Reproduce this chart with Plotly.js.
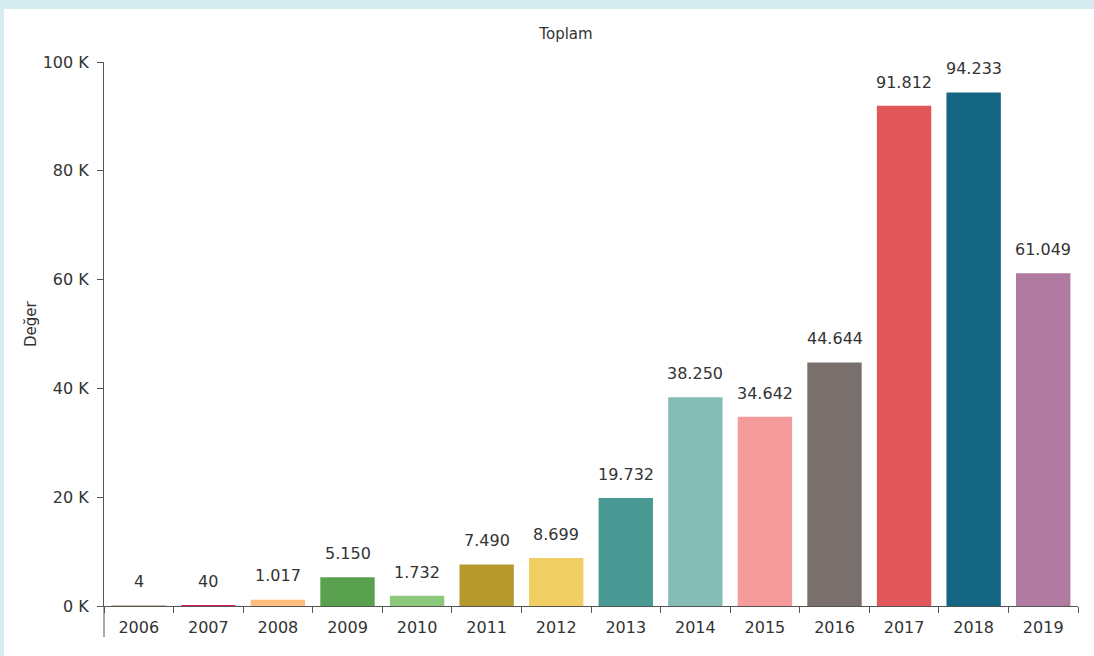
<!DOCTYPE html>
<html>
<head>
<meta charset="utf-8">
<script src="https://cdn.plot.ly/plotly-3.0.1.min.js"></script>
<style>
  html, body { margin: 0; padding: 0; background: #d6ecf0; width: 1094px; height: 656px; overflow: hidden; }
  #toplam { position: absolute; left: 4px; top: 9px; width: 1090px; height: 647px; background: #fff; }
</style>
</head>
<body>
<div id="toplam"></div>
<script>
var yillar = ['2006', '2007', '2008', '2009', '2010', '2011', '2012', '2013', '2014', '2015', '2016', '2017', '2018', '2019'];
var degerler = [4, 40, 1017, 5150, 1732, 7490, 8699, 19732, 38250, 34642, 44644, 91812, 94233, 61049];
var renkler = ['#bba98b', '#d81b60', '#ffbe7d', '#59a14f', '#8cc97d', '#b6992d', '#f1ce63', '#499894',
               '#86bcb6', '#f59b9c', '#79706e', '#e15759', '#156682', '#b07aa1'];
var yTickVals = [0, 20000, 40000, 60000, 80000, 100000];
var yTickText = ['0 K', '20 K', '40 K', '60 K', '80 K', '100 K'];

var yazi = '"DejaVu Sans", sans-serif';

var cubuklar = {
  x: yillar,
  y: degerler,
  type: 'bar',
  marker: { color: renkler, line: { color: renkler, width: 1.5 } },
  hoverinfo: 'x+y'
};

// value labels above bars (x by category index, year strings would be read as serial numbers)
var etiketler = yillar.map(function (yil, i) {
  return {
    x: i, y: degerler[i], xref: 'x', yref: 'y',
    text: degerler[i].toLocaleString('de-DE'),
    showarrow: false, yanchor: 'bottom', yshift: 13,
    font: { family: yazi, size: 16, color: '#333' }
  };
});
etiketler.push({
  text: 'Değer', xref: 'paper', yref: 'paper',
  x: -0.075, y: 0.52, xanchor: 'center', yanchor: 'middle',
  textangle: -90, showarrow: false,
  font: { family: yazi, size: 15, color: '#333' }
});

var duzen = {
  width: 1090,
  height: 647,
  margin: { l: 100, r: 16, t: 53, b: 50 },
  paper_bgcolor: '#fff',
  plot_bgcolor: '#fff',
  font: { family: yazi, size: 15, color: '#333' },
  title: { text: 'Toplam', x: 0.5156, xanchor: 'center', y: 0.961, yanchor: 'middle',
           font: { family: yazi, size: 15, color: '#333' } },
  bargap: 0.24,
  showlegend: false,
  xaxis: {
    type: 'category',
    range: [-0.5, yillar.length - 0.5],
    showline: true, linecolor: '#555', linewidth: 1,
    ticks: 'outside', ticklen: 6, tickcolor: '#555', tickson: 'boundaries',
    ticklabelstandoff: 7,
    showgrid: false, zeroline: false,
    tickfont: { family: yazi, size: 16, color: '#333' }
  },
  yaxis: {
    range: [0, 100000],
    tickvals: yTickVals,
    ticktext: yTickText,
    showline: true, linecolor: '#555', linewidth: 1,
    ticks: 'outside', ticklen: 6, tickcolor: '#555',
    ticklabelstandoff: 5,
    showgrid: false, zeroline: false,
    tickfont: { family: yazi, size: 16, color: '#333' }
  },
  // y axis line continues a little below the x axis
  shapes: [{
    type: 'line', xref: 'paper', yref: 'paper',
    x0: 0, x1: 0, y0: 0, y1: -31 / 544,
    line: { color: '#555', width: 1 }
  }],
  annotations: etiketler
};

Plotly.newPlot('toplam', [cubuklar], duzen, { displayModeBar: false, staticPlot: true });
</script>
</body>
</html>
